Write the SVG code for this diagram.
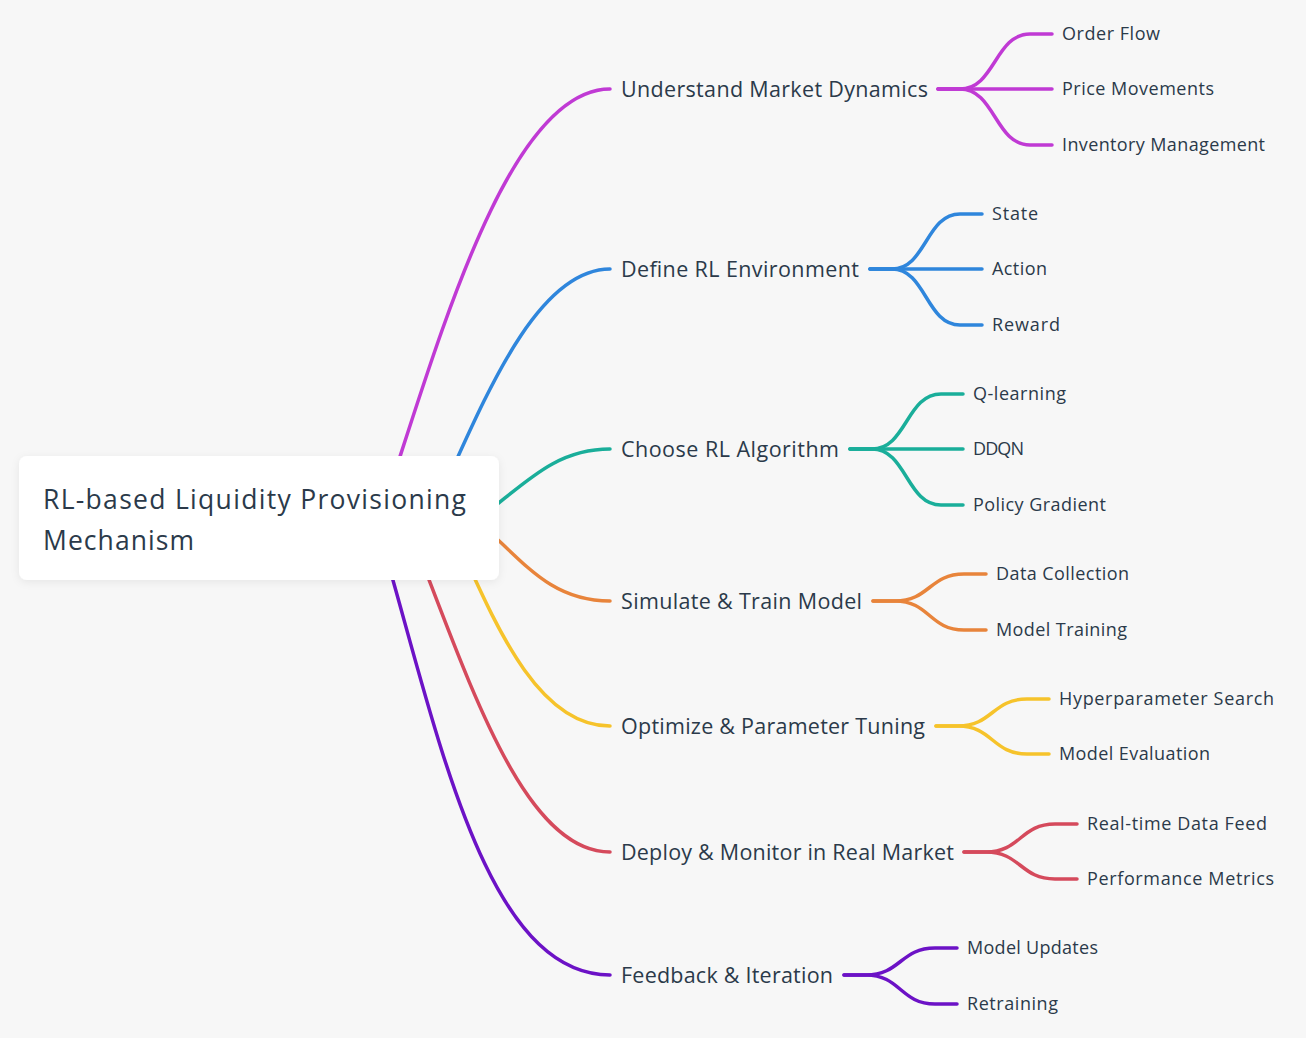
<svg xmlns="http://www.w3.org/2000/svg" width="1306" height="1038" viewBox="0 0 1306 1038">
<defs>
<filter id="sh" x="-10%" y="-20%" width="120%" height="150%">
<feDropShadow dx="0" dy="2" stdDeviation="4" flood-color="#000" flood-opacity="0.07"/>
</filter>
<style>
.c{fill:none;stroke-width:3.5;stroke-linecap:round;stroke-linejoin:round}
.t{font-family:"Open Sans","Noto Sans",sans-serif;fill:#2b3a4a}
.root{font-size:26.5px}
.br{font-size:21.5px}
.lf{font-size:18px}
.m{stroke:#c03ad4}.b{stroke:#2f86dc}.g{stroke:#1aae9a}.o{stroke:#e8843b}.y{stroke:#f6c32b}.r{stroke:#d54a5c}.p{stroke:#6c12c6}
</style>
</defs>
<rect width="1306" height="1038" fill="#f7f7f7"/>
<g id="connectors">
<path class="c m" d="M380 518 C436 350 506 89 610 89"/>
<path class="c b" d="M430 518 C475 423.5 530 269 610 269"/>
<path class="c g" d="M470 525 C520 490 550 449 610 449"/>
<path class="c o" d="M470 515 C520 555 545 601 610 601"/>
<path class="c y" d="M447 518 C487 602 530 726 610 726"/>
<path class="c r" d="M405 518 C465 668 520 852 610 852"/>
<path class="c p" d="M375 518 C435 716 480 975 610 975"/>

<path class="c m" d="M938 89 H960 C995 89 995 34 1030 34 H1052"/>
<path class="c m" d="M938 89 H1052"/>
<path class="c m" d="M938 89 H960 C995 89 995 145 1030 145 H1052"/>

<path class="c b" d="M870 269 H892 C926 269 926 214 960 214 H982"/>
<path class="c b" d="M870 269 H982"/>
<path class="c b" d="M870 269 H892 C926 269 926 325 960 325 H982"/>

<path class="c g" d="M850 449 H872 C906.5 449 906.5 394 941 394 H963"/>
<path class="c g" d="M850 449 H963"/>
<path class="c g" d="M850 449 H872 C906.5 449 906.5 505 941 505 H963"/>

<path class="c o" d="M873 601 H895 C929.5 601 929.5 574 964 574 H986"/>
<path class="c o" d="M873 601 H895 C929.5 601 929.5 630 964 630 H986"/>

<path class="c y" d="M936 726 H958 C992.5 726 992.5 699 1027 699 H1049"/>
<path class="c y" d="M936 726 H958 C992.5 726 992.5 754 1027 754 H1049"/>

<path class="c r" d="M964 852 H986 C1020.5 852 1020.5 824 1055 824 H1077"/>
<path class="c r" d="M964 852 H986 C1020.5 852 1020.5 879 1055 879 H1077"/>

<path class="c p" d="M844 975 H866 C900.5 975 900.5 948 935 948 H957"/>
<path class="c p" d="M844 975 H866 C900.5 975 900.5 1004 935 1004 H957"/>
</g>

<g id="root">
<rect x="19" y="456" width="480" height="124" rx="8" fill="#fff" filter="url(#sh)"/>
<text class="t root" x="43" y="509" textLength="423">RL-based Liquidity Provisioning</text>
<text class="t root" x="43" y="550" textLength="151">Mechanism</text>
</g>

<g id="n1"><text class="t br" x="621" y="97" textLength="307">Understand Market Dynamics</text></g>
<g id="n2"><text class="t br" x="621" y="277" textLength="238">Define RL Environment</text></g>
<g id="n3"><text class="t br" x="621" y="457" textLength="218">Choose RL Algorithm</text></g>
<g id="n4"><text class="t br" x="621" y="609" textLength="241">Simulate &amp; Train Model</text></g>
<g id="n5"><text class="t br" x="621" y="734" textLength="304">Optimize &amp; Parameter Tuning</text></g>
<g id="n6"><text class="t br" x="621" y="860" textLength="333">Deploy &amp; Monitor in Real Market</text></g>
<g id="n7"><text class="t br" x="621" y="983" textLength="212">Feedback &amp; Iteration</text></g>

<g id="l1a"><text class="t lf" x="1062" y="40" textLength="98">Order Flow</text></g>
<g id="l1b"><text class="t lf" x="1062" y="95" textLength="152">Price Movements</text></g>
<g id="l1c"><text class="t lf" x="1062" y="151" textLength="203">Inventory Management</text></g>
<g id="l2a"><text class="t lf" x="992" y="220" textLength="46">State</text></g>
<g id="l2b"><text class="t lf" x="992" y="275" textLength="55">Action</text></g>
<g id="l2c"><text class="t lf" x="992" y="331" textLength="68">Reward</text></g>
<g id="l3a"><text class="t lf" x="973" y="400" textLength="93">Q-learning</text></g>
<g id="l3b"><text class="t lf" x="973" y="455" textLength="51">DDQN</text></g>
<g id="l3c"><text class="t lf" x="973" y="511" textLength="133">Policy Gradient</text></g>
<g id="l4a"><text class="t lf" x="996" y="580" textLength="133">Data Collection</text></g>
<g id="l4b"><text class="t lf" x="996" y="636" textLength="131">Model Training</text></g>
<g id="l5a"><text class="t lf" x="1059" y="705" textLength="215">Hyperparameter Search</text></g>
<g id="l5b"><text class="t lf" x="1059" y="760" textLength="151">Model Evaluation</text></g>
<g id="l6a"><text class="t lf" x="1087" y="830" textLength="180">Real-time Data Feed</text></g>
<g id="l6b"><text class="t lf" x="1087" y="885" textLength="187">Performance Metrics</text></g>
<g id="l7a"><text class="t lf" x="967" y="954" textLength="131">Model Updates</text></g>
<g id="l7b"><text class="t lf" x="967" y="1010" textLength="91">Retraining</text></g>
</svg>
